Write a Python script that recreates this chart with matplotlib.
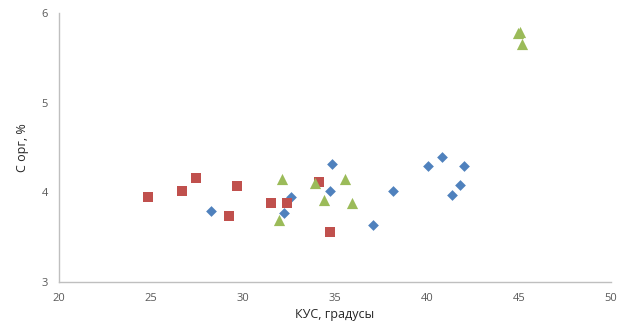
import matplotlib.pyplot as plt

plt.rcParams['font.family'] = ['Open Sans', 'DejaVu Sans']

# серия 1 (синие ромбы)
x1 = [28.26, 32.25, 32.63, 34.84, 34.71, 37.06, 38.16, 40.05, 40.83, 42.01, 41.81, 41.38]
y1 = [3.79, 3.77, 3.95, 4.32, 4.02, 3.64, 4.02, 4.29, 4.39, 4.29, 4.08, 3.97]

# серия 2 (красные квадраты)
x2 = [24.86, 26.68, 27.44, 29.69, 29.24, 31.52, 32.41, 34.12, 34.75]
y2 = [3.95, 4.01, 4.16, 4.07, 3.74, 3.88, 3.88, 4.11, 3.56]

# серия 3 (зелёные треугольники)
x3 = [32.14, 31.94, 33.90, 35.57, 34.39, 35.93, 44.97, 45.05, 45.19]
y3 = [4.15, 3.69, 4.10, 4.15, 3.91, 3.88, 5.78, 5.79, 5.65]

xticks = [20, 25, 30, 35, 40, 45, 50]
yticks = [3, 4, 5, 6]

fig = plt.figure(figsize=(6.33, 3.36), dpi=100)
ax = fig.add_axes([0.093, 0.161, 0.872, 0.800])

ax.scatter(x1, y1, marker='D', s=30, color='#4F81BD', linewidths=0, zorder=3)
ax.scatter(x2, y2, marker='s', s=55, color='#C0504D', linewidths=0, zorder=3)
ax.scatter(x3, y3, marker='^', s=65, color='#9BBB59', linewidths=0, zorder=3)

ax.set_xlim(20, 50)
ax.set_ylim(3, 6)
ax.set_xticks(xticks)
ax.set_yticks(yticks)
ax.tick_params(length=0, labelsize=8, labelcolor='#595959', pad=8)

for side in ['top', 'right']:
    ax.spines[side].set_visible(False)
for side in ['left', 'bottom']:
    ax.spines[side].set_color('#BFBFBF')
    ax.spines[side].set_linewidth(1)

ax.set_xlabel('КУС, градусы', fontsize=9, color='#262626', labelpad=3)
ax.set_ylabel('С орг, %', fontsize=9, color='#262626', labelpad=9)

plt.savefig('out.png', dpi=100)
